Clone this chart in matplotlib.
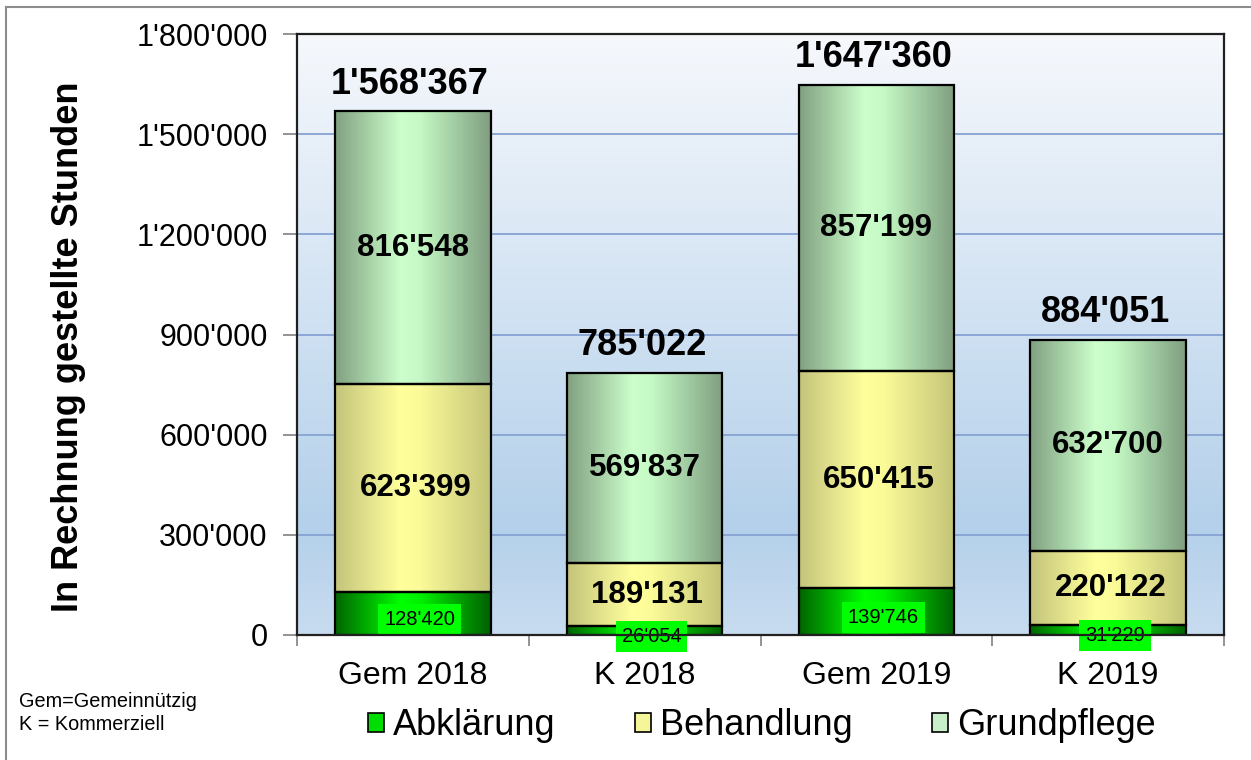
import numpy as np
import matplotlib
matplotlib.use("Agg")
import matplotlib.pyplot as plt
from matplotlib.colors import LinearSegmentedColormap
from matplotlib.lines import Line2D
from matplotlib.patches import Patch

plt.rcParams['font.family'] = ['Liberation Sans', 'DejaVu Sans']

categories = ["Gem 2018", "K 2018", "Gem 2019", "K 2019"]
abklaerung = [128420, 26054, 139746, 31229]
behandlung = [623399, 189131, 650415, 220122]
grundpflege = [816548, 569837, 857199, 632700]
series_names = ["Abklärung", "Behandlung", "Grundpflege"]
yticks = [0, 300000, 600000, 900000, 1200000, 1500000, 1800000]
ylabel = "In Rechnung gestellte Stunden"
footnote = "Gem=Gemeinnützig\nK = Kommerziell"

def fmt(v):
    return f"{v:,}".replace(",", "'")

fig = plt.figure(figsize=(12.51, 7.6), dpi=100)
ax = fig.add_axes([297/1251, 125/760, 927/1251, 601/760])

# background gradient of plot area
bg_cmap = LinearSegmentedColormap.from_list(
    "bg", [(0.0, "#C8DCF0"), (0.18, "#B4D0EA"), (0.6, "#D6E5F4"), (1.0, "#F6F8FC")])
grad = np.linspace(0, 1, 256).reshape(-1, 1)
ax.imshow(grad, extent=[0, 1, 0, 1], transform=ax.transAxes, cmap=bg_cmap,
          aspect="auto", origin="lower", zorder=0)

x = np.arange(len(categories))
width = 0.67

cmaps = [
    LinearSegmentedColormap.from_list("abk", [(0, "#006400"), (0.42, "#00FF00"), (0.55, "#00F000"), (1, "#006000")]),
    LinearSegmentedColormap.from_list("beh", [(0, "#C4C47C"), (0.42, "#FFFF9C"), (0.55, "#FAFA98"), (1, "#C4C478")]),
    LinearSegmentedColormap.from_list("gru", [(0, "#80A080"), (0.42, "#CCFFCC"), (0.55, "#C4F8C4"), (1, "#7F9E80")]),
]
legend_colors = ["#00DD00", "#F5F59A", "#C8F0C8"]

hgrad = np.linspace(0, 1, 256).reshape(1, -1)
bottom = np.zeros(len(categories))
series = [abklaerung, behandlung, grundpflege]
for vals, cm in zip(series, cmaps):
    vals = np.array(vals, dtype=float)
    bars = ax.bar(x, vals, width, bottom=bottom, facecolor="none",
                  edgecolor="black", linewidth=1.6, zorder=3)
    for b in bars:
        x0, y0 = b.get_x(), b.get_y()
        im = ax.imshow(hgrad, extent=[x0, x0 + b.get_width(), y0, y0 + b.get_height()],
                       cmap=cm, aspect="auto", zorder=2)
        im.set_clip_path(b)
    bottom += vals

# segment labels
ab = np.array(abklaerung, float)
be = np.array(behandlung, float)
gr = np.array(grundpflege, float)
for i in range(len(categories)):
    ax.annotate(fmt(abklaerung[i]), (x[i], ab[i] / 2), xytext=(5, -4),
                textcoords="offset points", ha="center", va="center", fontsize=14.5,
                zorder=5, bbox=dict(boxstyle="square,pad=0.3", fc="#00FF00", ec="none"))
    ax.annotate(fmt(behandlung[i]), (x[i], ab[i] + be[i] / 2), xytext=(2, 0),
                textcoords="offset points", ha="center", va="center", fontsize=22.5,
                fontweight="bold", zorder=5)
    ax.annotate(fmt(grundpflege[i]), (x[i], ab[i] + be[i] + gr[i] / 2), xytext=(0, 0),
                textcoords="offset points", ha="center", va="center", fontsize=22.5,
                fontweight="bold", zorder=5)
    ax.annotate(fmt(int(bottom[i])), (x[i], bottom[i]), xytext=(-2, 7),
                textcoords="offset points", ha="center", va="bottom", fontsize=26,
                fontweight="bold", zorder=5)

ax.set_xlim(-0.5, len(categories) - 0.5)
ax.set_ylim(0, 1800000)
ax.set_yticks(yticks)
ax.set_yticklabels([fmt(t) for t in yticks], fontsize=22)
ax.set_xticks(x)
ax.set_xticklabels(categories, fontsize=23)
ax.set_xticks(np.arange(len(categories) + 1) - 0.5, minor=True)
ax.tick_params(axis="x", which="major", length=0, pad=19)
ax.tick_params(axis="x", which="minor", length=8, color="#808080", width=1.2)
ax.tick_params(axis="y", length=10, color="#808080", width=1.2, pad=11)

ax.grid(axis="y", color="#86A2D2", linewidth=1.3, zorder=1)
ax.set_axisbelow(True)
for s in ax.spines.values():
    s.set_color("#202020")
    s.set_linewidth(1.6)
    s.set_zorder(6)

ax.set_ylabel(ylabel, fontsize=26, fontweight="bold")
ax.yaxis.set_label_coords(-0.228, 0.48)

handles = [Patch(facecolor=c, edgecolor="black", linewidth=1.2) for c in legend_colors]
fig.legend(handles, series_names, loc="center", bbox_to_anchor=(0.609, 0.045),
           ncol=3, fontsize=26, frameon=False, handlelength=0.45, handleheight=0.45,
           handletextpad=0.25, columnspacing=2.2)

fig.text(19/1251, 1 - 713/760, footnote, fontsize=14.3, ha="left", va="center",
         linespacing=1.25)

# outer figure border (left and top)
fig.add_artist(Line2D([6/1251, 6/1251], [0, 1 - 7/760], transform=fig.transFigure,
                      color="#8C8C8C", linewidth=1.5))
fig.add_artist(Line2D([6/1251, 1], [1 - 7/760, 1 - 7/760], transform=fig.transFigure,
                      color="#8C8C8C", linewidth=1.5))

fig.savefig("out.png", dpi=100)
